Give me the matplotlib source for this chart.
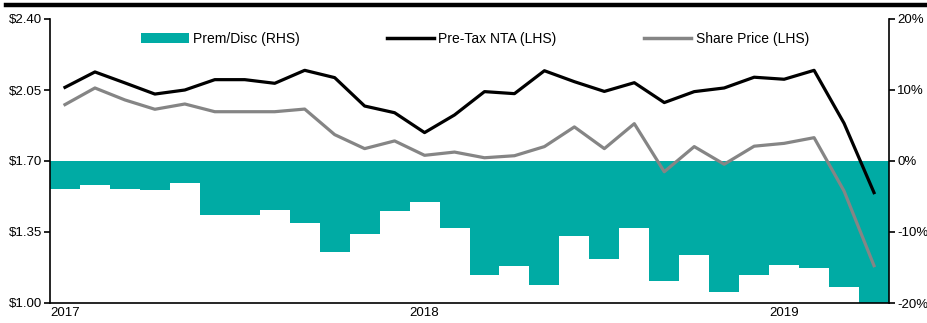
import matplotlib
matplotlib.use("Agg")
import matplotlib.pyplot as plt
from matplotlib.lines import Line2D
from matplotlib.patches import Patch

plt.rcParams["font.family"] = ["Liberation Sans", "DejaVu Sans"]

# monthly, Jan 2017 - Apr 2019
months = list(range(28))
year_ticks = [0, 12, 24]
year_labels = ["2017", "2018", "2019"]

pre_tax_nta = [2.063, 2.139, 2.085, 2.030, 2.050, 2.101, 2.101, 2.083, 2.147, 2.111,
               1.971, 1.938, 1.840, 1.927, 2.042, 2.032, 2.145, 2.091, 2.043, 2.086,
               1.988, 2.042, 2.060, 2.113, 2.103, 2.147, 1.886, 1.544]
share_price = [1.978, 2.060, 2.001, 1.955, 1.981, 1.943, 1.943, 1.943, 1.956, 1.830,
               1.761, 1.799, 1.728, 1.744, 1.716, 1.726, 1.771, 1.868, 1.761, 1.884,
               1.647, 1.771, 1.684, 1.773, 1.787, 1.815, 1.552, 1.184]
prem_disc = [-3.9, -3.4, -3.9, -4.1, -3.1, -7.6, -7.6, -6.9, -8.8, -12.8,
             -10.35, -7.1, -5.8, -9.4, -16.1, -14.8, -17.4, -10.6, -13.8, -9.4,
             -16.85, -13.2, -18.4, -16.1, -14.7, -15.1, -17.8, -20.0]

teal = "#00ABA4"
grey = "#858585"

fig = plt.figure(figsize=(9.28, 3.23), dpi=100)
ax = fig.add_axes([50/928, 20/323, 839/928, 284/323])
ax2 = ax.twinx()

ax2.bar(months, prem_disc, width=1.0, color=teal, linewidth=0)
ax2.set_ylim(-20, 20)
ax2.set_yticks([-20, -10, 0, 10, 20])
ax2.set_yticklabels(["-20%", "-10%", "0%", "10%", "20%"])

ax.plot(months, pre_tax_nta, color="black", lw=2.3)
ax.plot(months, share_price, color=grey, lw=2.3)
ax.set_ylim(1.0, 2.4)
ax.set_yticks([1.0, 1.35, 1.70, 2.05, 2.40])
ax.set_yticklabels(["$1.00", "$1.35", "$1.70", "$2.05", "$2.40"])
ax.set_xlim(-0.5, 27.5)
ax.set_xticks(year_ticks)
ax.set_xticklabels(year_labels)

ax.set_zorder(ax2.get_zorder() + 1)
ax.patch.set_visible(False)

for a in (ax, ax2):
    a.spines["top"].set_visible(False)
    for s in a.spines.values():
        s.set_linewidth(1.2)
ax.spines["right"].set_visible(False)
ax2.spines["left"].set_visible(False)
ax2.spines["bottom"].set_visible(False)
ax.tick_params(axis="y", labelsize=9.5, length=4, width=1.2, pad=2)
ax.tick_params(axis="x", labelsize=9.5, length=0, pad=3)
ax2.tick_params(axis="y", labelsize=9.5, length=4, width=1.2, pad=2)

handles = [Patch(facecolor=teal, edgecolor="none"),
           Line2D([], [], color="black", lw=2.5),
           Line2D([], [], color=grey, lw=2.5)]
labels = ["Prem/Disc (RHS)", "Pre-Tax NTA (LHS)", "Share Price (LHS)"]
fig.legend(handles, labels, loc="center", bbox_to_anchor=(0.512, 0.88), ncol=3,
           frameon=False, fontsize=10, handlelength=3.4, handleheight=0.7,
           columnspacing=6.3, handletextpad=0.3)

# heavy rule along the top
fig.add_artist(Line2D([6/928, 925/928], [0.986, 0.986], color="black", lw=3.2,
                      transform=fig.transFigure))

fig.savefig("out.png", dpi=100)
